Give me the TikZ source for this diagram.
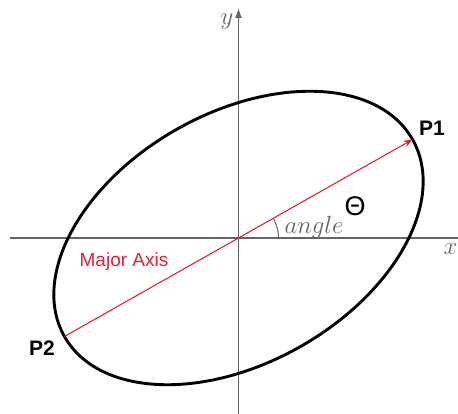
\documentclass[tikz,border=0pt]{standalone}
\usepackage{fontspec}
\newfontfamily\arial{Liberation Sans}
\usetikzlibrary{arrows.meta,calc}
\definecolor{axisgray}{RGB}{100,100,100}
\definecolor{axred}{RGB}{232,30,50}
\tikzset{
  axisline/.style={draw=axisgray,line width=1.4pt},
  ellipseline/.style={draw=black,line width=2.9pt},
  majorline/.style={draw=axred,line width=1.1pt,-{Stealth[length=9pt,width=7pt]}},
  ptlabel/.style={font=\arial\bfseries\fontsize{21}{24}\selectfont,text=black,inner sep=0pt},
  mathlabel/.style={text=axisgray,inner sep=0pt,font=\fontsize{23}{25}\selectfont},
}
\begin{document}
\begin{tikzpicture}[x=1pt,y=1pt]
\useasboundingbox (0,0) rectangle (458,414);
\coordinate (O) at (238.5,176);
\coordinate (xl) at (10,176);
\coordinate (xr) at (458,176);
\coordinate (yb) at (238.5,0);
\coordinate (yt) at (238.5,406);
\coordinate (P1) at ($(O)+(29.5:200)$);
\coordinate (P2) at ($(O)+(209.5:200)$);
% axes
\draw[axisline] (xl) -- (xr);
\draw[axisline,-{Latex[length=10pt,width=7pt]}] (yb) -- (yt);
% ellipse
\draw[ellipseline,rotate around={29.5:(O)}] (O) ellipse (200 and 125);
% angle arc
\draw[axisline,line width=1pt] ($(O)+(0:40)$) arc (0:29.5:40);
% major axis
\draw[majorline] (P2) -- (P1);
% labels
\node[mathlabel] (xlab) at (450.5,165) {$x$};
\node[mathlabel] (ylab) at (227,392) {$y$};
\node[mathlabel] (anglab) at (314,187) {$angle$};
\node[inner sep=0pt,font=\arial\fontsize{27}{30}\selectfont] (theta) at (355,208) {Θ};
\node[ptlabel] (p1lab) at (432,286) {P1};
\node[ptlabel] (p2lab) at (42,66) {P2};
\node[inner sep=0pt,text=axred,font=\arial\fontsize{19}{22}\selectfont] (maj) at (124,152) {Major Axis};
\end{tikzpicture}
\end{document}
